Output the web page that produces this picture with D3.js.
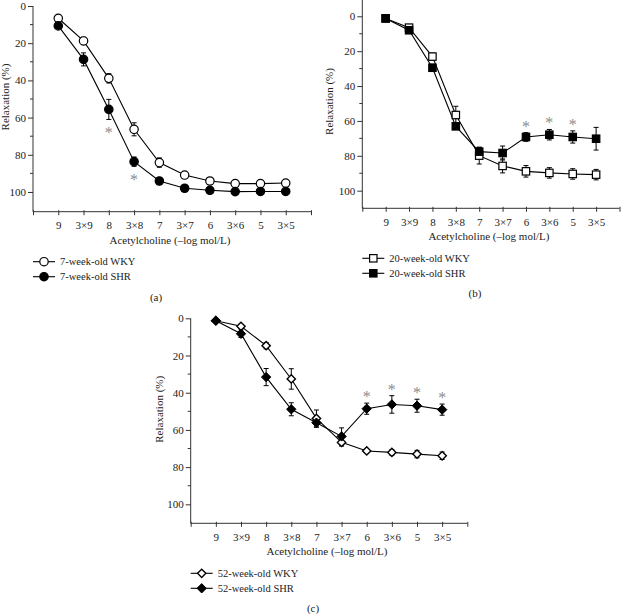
<!DOCTYPE html>
<html>
<head>
<meta charset="utf-8">
<script src="https://cdn.jsdelivr.net/npm/d3@7"></script>
<style>
  html, body { margin: 0; padding: 0; background: #fff; }
  svg text { font-family: "Liberation Serif", "Times New Roman", serif; fill: #222; }
</style>
</head>
<body>
<svg id="chart" width="621" height="614"></svg>
<script>
// ---- Data ----
const concentrations = ["9", "3×9", "8", "3×8", "7", "3×7", "6", "3×6", "5", "3×5"];
const yTicks = [0, 20, 40, 60, 80, 100];

// Panel (a) 7-week-old
const wky7 = [6.6, 18.8, 38.9, 66.3, 84.2, 90.9, 94.1, 95.5, 95.5, 95.2];
const wky7Err = [1, 2, 2.5, 3.5, 2.5, 1.5, 1.2, 1, 1, 1];
const shr7 = [10.7, 28.7, 55.6, 83.7, 94.1, 98.0, 99.1, 99.8, 99.7, 99.7];
const shr7Err = [1.2, 3.5, 5.4, 2.5, 1, 1, 1, 1, 1, 1];
const sig7 = [2, 3];

// Panel (b) 20-week-old
const wky20 = [1.2, 6.5, 23.1, 56.6, 79.9, 85.8, 88.9, 89.8, 90.4, 90.8];
const wky20Err = [0.6, 1.2, 2, 5, 4.8, 4, 3.3, 3, 3, 3];
const shr20 = [1.2, 8.0, 29.5, 63.1, 77.6, 78.4, 69.2, 67.9, 69.2, 70.2];
const shr20Err = [0.5, 1.2, 2, 1.5, 2.5, 4, 2.5, 3, 3.5, 6.5];
const sig20 = [6, 7, 8];

// Panel (c) 52-week-old
const wky52 = [1.3, 4.3, 14.7, 32.6, 53.8, 66.7, 71.3, 72.1, 73.0, 73.9];
const wky52Err = [0.5, 1, 1.7, 5.5, 4.5, 2, 1, 1.5, 2, 2];
const shr52 = [1.3, 8.3, 31.6, 48.9, 56.1, 63.5, 48.6, 46.3, 47.0, 49.1];
const shr52Err = [0.5, 2, 4.6, 3.5, 2.5, 4.6, 3, 4.7, 3.5, 3];
const sig52 = [6, 7, 8, 9];

const FONT = "'Liberation Serif', 'Times New Roman', serif";
const svg = d3.select("#chart");

function marker(g, shape, filled, cx, cy) {
  const fill = filled ? "#000" : "#fff";
  if (shape === "circle") {
    g.append("circle").attr("cx", cx).attr("cy", cy).attr("r", 4.2)
      .attr("fill", fill).attr("stroke", "#000").attr("stroke-width", 1.2);
  } else if (shape === "square") {
    g.append("rect").attr("x", cx - 3.7).attr("y", cy - 3.7).attr("width", 7.4).attr("height", 7.4)
      .attr("fill", fill).attr("stroke", "#000").attr("stroke-width", 1.2);
  } else {
    const s = d3.symbol().type(d3.symbolDiamond2).size(filled ? 56 : 44);
    g.append("path").attr("d", s()).attr("transform", `translate(${cx},${cy})`)
      .attr("fill", fill).attr("stroke", "#000").attr("stroke-width", filled ? 1 : 1.4);
  }
}

function drawPanel(cfg) {
  const x = d3.scaleLinear().domain([0, 11]).range([cfg.x0, cfg.x1]);
  const y = d3.scaleLinear().domain(cfg.yDomain).range([cfg.yTop, cfg.yBottom]);
  const g = svg.append("g");
  const axisY = cfg.yBottom;

  // y axis
  const ya = g.append("g").attr("transform", `translate(${cfg.x0},0)`)
    .call(d3.axisLeft(y).tickValues(yTicks).tickSize(5).tickPadding(2));
  ya.attr("font-family", null).attr("font-size", null);
  ya.select(".domain").attr("stroke", "#333").attr("d", `M0,${cfg.yTop}V${axisY}`);
  ya.selectAll(".tick line").attr("stroke", "#333");
  ya.selectAll(".tick text").style("font-size", "11px").style("font-family", FONT).style("fill", "#222");
  // minor y ticks
  g.selectAll(".minor").data(d3.range(10, 100, 20)).enter().append("line")
    .attr("x1", cfg.x0 - 3).attr("x2", cfg.x0)
    .attr("y1", d => y(d)).attr("y2", d => y(d)).attr("stroke", "#333");

  // x axis
  const xa = g.append("g").attr("transform", `translate(0,${axisY})`)
    .call(d3.axisBottom(x).tickValues(d3.range(0, 12)).tickSize(3.5).tickPadding(6)
      .tickFormat(i => (i >= 1 && i <= 10) ? concentrations[i - 1] : ""));
  xa.attr("font-family", null).attr("font-size", null);
  xa.select(".domain").attr("stroke", "#333").attr("d", `M${cfg.x0},0H${cfg.x1}`);
  xa.selectAll(".tick line").attr("stroke", "#333").attr("y1", -1.5);
  xa.selectAll(".tick text").style("font-size", "11px").style("font-family", FONT).style("fill", "#222");

  // axis titles
  const midX = (cfg.x0 + cfg.x1) / 2;
  g.append("text").attr("x", midX - 2).attr("y", axisY + 32)
    .attr("text-anchor", "middle").style("font-size", "11px").style("font-family", FONT)
    .text("Acetylcholine (–log mol/L)");
  g.append("text")
    .attr("transform", `translate(${cfg.x0 - cfg.yLabelOff},${y(50) - 2}) rotate(-90)`)
    .attr("text-anchor", "middle").style("font-size", "11px").style("font-family", FONT)
    .text("Relaxation (%)");

  // series
  const line = d3.line().x((d, i) => x(i + 1)).y(d => y(d));
  cfg.series.forEach(s => {
    g.append("path").attr("d", line(s.values)).attr("fill", "none")
      .attr("stroke", "#000").attr("stroke-width", 1.1);
  });
  cfg.series.forEach(s => {
    const eb = g.append("g");
    s.values.forEach((v, i) => {
      const xi = x(i + 1), e = s.err[i];
      eb.append("line").attr("x1", xi).attr("x2", xi).attr("y1", y(v - e)).attr("y2", y(v + e))
        .attr("stroke", "#000").attr("stroke-width", 1);
      [v - e, v + e].forEach(w => eb.append("line").attr("x1", xi - 2.5).attr("x2", xi + 2.5)
        .attr("y1", y(w)).attr("y2", y(w)).attr("stroke", "#000").attr("stroke-width", 1));
    });
  });
  cfg.series.forEach(s => {
    s.values.forEach((v, i) => marker(g, cfg.shape, s.filled, x(i + 1), y(v)));
  });

  // significance asterisks
  const shr = cfg.series[1];
  cfg.sig.forEach(i => {
    const v = shr.values[i], e = shr.err[i];
    const center = cfg.sigBelow ? y(v + e) + 11.5 : y(v - e) - 8.5;
    g.append("text").attr("x", x(i + 1)).attr("y", center + 7.5).attr("text-anchor", "middle")
      .style("font-size", "16px").style("font-family", FONT).style("fill", "#8c8c8c").text("*");
  });

  // legend
  cfg.series.forEach((s, k) => {
    const ly = axisY + 50 + k * 15;
    g.append("line").attr("x1", cfg.x0).attr("x2", cfg.x0 + 22).attr("y1", ly).attr("y2", ly)
      .attr("stroke", "#000").attr("stroke-width", 1.1);
    marker(g, cfg.shape, s.filled, cfg.x0 + 11, ly);
    g.append("text").attr("x", cfg.x0 + 27).attr("y", ly + 3.6)
      .style("font-size", "10.5px").style("font-family", FONT).text(s.name);
  });

  // panel letter
  g.append("text").attr("x", midX - 16).attr("y", axisY + 89).attr("text-anchor", "middle")
    .style("font-size", "11px").style("font-family", FONT).text(cfg.letter);
}

drawPanel({
  x0: 33, x1: 311, yTop: 6, yBottom: 211.7, yDomain: [0, 110.6], yLabelOff: 24,
  shape: "circle", letter: "(a)", sig: sig7, sigBelow: true,
  series: [
    { name: "7-week-old WKY", values: wky7, err: wky7Err, filled: false },
    { name: "7-week-old SHR", values: shr7, err: shr7Err, filled: true }
  ]
});

drawPanel({
  x0: 362.3, x1: 619.5, yTop: 0, yBottom: 208.3, yDomain: [-9.35, 110.1], yLabelOff: 29,
  shape: "square", letter: "(b)", sig: sig20, sigBelow: false,
  series: [
    { name: "20-week-old WKY", values: wky20, err: wky20Err, filled: false },
    { name: "20-week-old SHR", values: shr20, err: shr20Err, filled: true }
  ]
});

drawPanel({
  x0: 190.7, x1: 467.3, yTop: 318.3, yBottom: 523.3, yDomain: [0, 110.2], yLabelOff: 28,
  shape: "diamond", letter: "(c)", sig: sig52, sigBelow: false,
  series: [
    { name: "52-week-old WKY", values: wky52, err: wky52Err, filled: false },
    { name: "52-week-old SHR", values: shr52, err: shr52Err, filled: true }
  ]
});
</script>
</body>
</html>
